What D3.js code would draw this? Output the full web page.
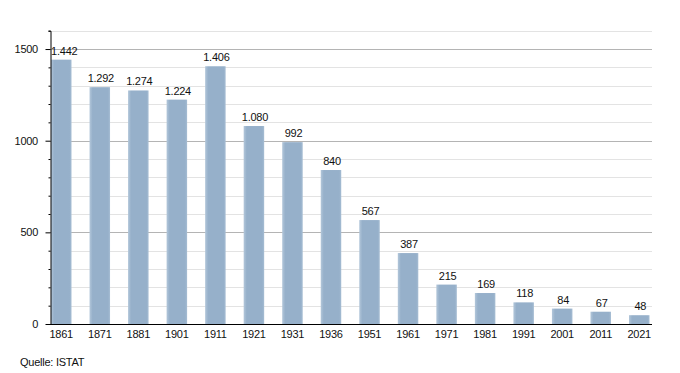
<!DOCTYPE html>
<html><head><meta charset="utf-8">
<script src="https://cdn.jsdelivr.net/npm/d3@7"></script>
<style>body{margin:0;background:#fff}svg{display:block}text{font-family:"Liberation Sans",Arial,sans-serif;letter-spacing:-0.25px}</style>
</head><body><svg id="c" width="680" height="373"></svg>
<script>
const years = ["1861","1871","1881","1901","1911","1921","1931","1936","1951","1961","1971","1981","1991","2001","2011","2021"];
const population = [1442,1292,1274,1224,1406,1080,992,840,567,387,215,169,118,84,67,48];
const valueLabels = ["1.442","1.292","1.274","1.224","1.406","1.080","992","840","567","387","215","169","118","84","67","48"];
const yTicks = [0,500,1000,1500];
const source = "Quelle: ISTAT";

const svg = d3.select("#c");
const x0 = 50, x1 = 652, yTop = 30.7, yBot = 324;
const y = d3.scaleLinear().domain([0,1600]).range([yBot,yTop]);
const x = d3.scaleBand().domain(years).range([x0+1, 649.5]).paddingInner(0.468).paddingOuter(0);

const defs = svg.append("defs");
const g = defs.append("linearGradient").attr("id","bg").attr("x1","0").attr("x2","1");
g.append("stop").attr("offset","0").attr("stop-color","#b3c7da");
g.append("stop").attr("offset","0.15").attr("stop-color","#96b0ca");
g.append("stop").attr("offset","0.9").attr("stop-color","#96b0ca");
g.append("stop").attr("offset","1").attr("stop-color","#a6bdd3");

// grid
const minor = d3.range(100,1601,100).filter(v=>v%500!==0);
svg.append("g").selectAll("line").data(minor).join("line")
  .attr("x1",x0).attr("x2",x1).attr("y1",d=>Math.round(y(d))+0.5).attr("y2",d=>Math.round(y(d))+0.5)
  .attr("stroke","#e3e3e3").attr("stroke-width",1);
svg.append("g").selectAll("line").data([500,1000,1500]).join("line")
  .attr("x1",x0).attr("x2",x1).attr("y1",d=>Math.round(y(d))+0.5).attr("y2",d=>Math.round(y(d))+0.5)
  .attr("stroke","#b4b4b4").attr("stroke-width",1);

// bars
svg.append("g").selectAll("rect").data(years).join("rect")
  .attr("x",d=>x(d)).attr("width",x.bandwidth())
  .attr("y",(d,i)=>y(population[i])).attr("height",(d,i)=>yBot-y(population[i]))
  .attr("fill","url(#bg)");

// value labels
svg.append("g").selectAll("text").data(years).join("text")
  .attr("x",(d,i)=>x(d)+x.bandwidth()/2+(i===0?3:1)).attr("y",(d,i)=>y(population[i])-5)
  .attr("text-anchor","middle").attr("font-size",11).attr("fill","#111")
  .text((d,i)=>valueLabels[i]);

// y axis
const yAxis = d3.axisLeft(y).tickValues(d3.range(0,1601,100)).tickSize(2).tickFormat("");
const ya = svg.append("g").attr("transform",`translate(${x0+0.5},0)`).call(yAxis);
ya.select(".domain").attr("stroke","#000");
ya.selectAll(".tick line").attr("stroke","#000").attr("x2",d=>d%500===0?-5:-2);
svg.append("g").selectAll("text").data(yTicks).join("text")
  .attr("x",38).attr("y",d=>y(d)+4).attr("text-anchor","end")
  .attr("font-size",11).attr("fill","#111").text(d=>d);

// x axis
svg.append("line").attr("x1",x0).attr("x2",x1).attr("y1",yBot+0.5).attr("y2",yBot+0.5).attr("stroke","#000").attr("stroke-width",1.2);
svg.append("g").selectAll("text").data(years).join("text")
  .attr("x",d=>x(d)+x.bandwidth()/2).attr("y",yBot+14)
  .attr("text-anchor","middle").attr("font-size",11).attr("fill","#111").text(d=>d);

svg.append("text").attr("x",20).attr("y",366).attr("font-size",11).attr("fill","#111").text(source);
</script></body></html>
